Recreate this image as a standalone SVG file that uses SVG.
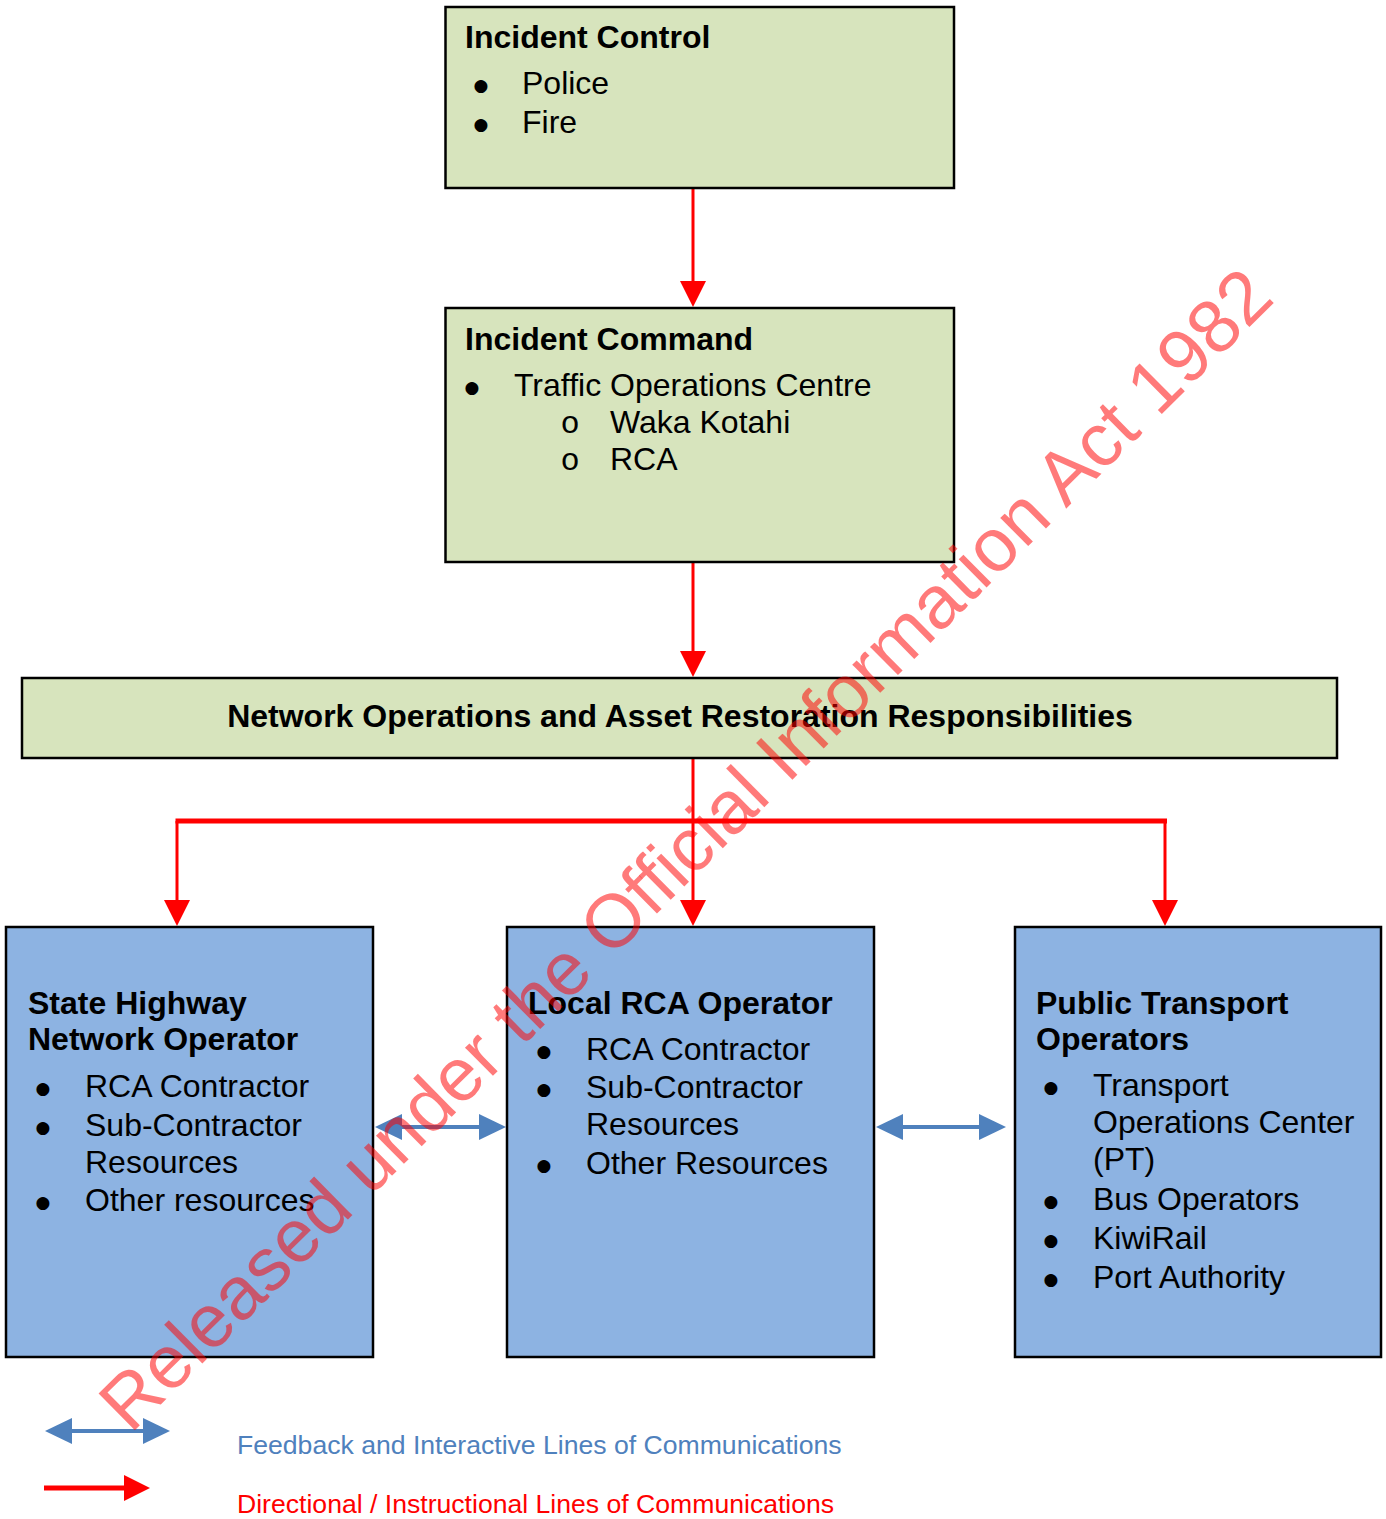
<svg xmlns="http://www.w3.org/2000/svg" width="1386" height="1519" viewBox="0 0 1386 1519">
<style>
.green{fill:#d7e4bd;stroke:#000;stroke-width:2.5}
.blue{fill:#8db3e2;stroke:#000;stroke-width:2.5}
.h{font-family:'Liberation Sans',Arial,sans-serif;font-weight:bold;font-size:32px;fill:#000}
.t{font-family:'Liberation Sans',Arial,sans-serif;font-size:32px;fill:#000}
.b{font-family:'DejaVu Sans',sans-serif;font-size:17px;fill:#000;text-anchor:middle}
.o{font-family:'Liberation Mono','Courier New',monospace;font-size:32px;fill:#000;text-anchor:middle}
.red{stroke:#ff0000;stroke-width:3;fill:none}
.bl{stroke:#4f81bd;stroke-width:4;fill:none}
.leg{font-family:'Liberation Sans',Arial,sans-serif;font-size:26.6px}
.wm{font-family:'Liberation Sans',Arial,sans-serif;font-size:75px;fill:#ff0000;fill-opacity:0.52}
</style>
<defs>
<marker id="ahr" viewBox="0 0 26 26" refX="16" refY="13" markerWidth="26" markerHeight="26" markerUnits="userSpaceOnUse" orient="auto"><path d="M0,0 L26,13 L0,26 z" fill="#ff0000"/></marker>
<marker id="ahb" viewBox="0 0 27 26" refX="17" refY="13" markerWidth="27" markerHeight="26" markerUnits="userSpaceOnUse" orient="auto-start-reverse"><path d="M0,0 L27,13 L0,26 z" fill="#4f81bd"/></marker>
</defs>
<rect width="1386" height="1519" fill="#fff"/>

<g id="connectors">
<path class="red" d="M693,189 L693,297" marker-end="url(#ahr)"/>
<path class="red" d="M693,563 L693,667" marker-end="url(#ahr)"/>
<path class="red" d="M693,759 L693,916" marker-end="url(#ahr)"/>
<path class="red" d="M175.5,821 L1167,821" style="stroke-width:5"/>
<path class="red" d="M177,821 L177,916" marker-end="url(#ahr)"/>
<path class="red" d="M1165,821 L1165,916" marker-end="url(#ahr)"/>
<path class="bl" d="M385,1127 L496,1127" marker-start="url(#ahb)" marker-end="url(#ahb)"/>
<path class="bl" d="M886,1127 L996,1127" marker-start="url(#ahb)" marker-end="url(#ahb)"/>
</g>

<g id="incident-control">
<rect class="green" x="445.5" y="7" width="508.5" height="181"/>
<text class="h" x="465" y="48">Incident Control</text>
<text class="b" x="481" y="91">●</text><text class="t" x="522" y="94">Police</text>
<text class="b" x="481" y="130">●</text><text class="t" x="522" y="133">Fire</text>
</g>

<g id="incident-command">
<rect class="green" x="445.5" y="308" width="508.5" height="254"/>
<text class="h" x="465" y="350">Incident Command</text>
<text class="b" x="472" y="393">●</text><text class="t" x="514" y="396">Traffic Operations Centre</text>
<text class="o" x="570" y="433">o</text><text class="t" x="610" y="433">Waka Kotahi</text>
<text class="o" x="570" y="470">o</text><text class="t" x="610" y="470">RCA</text>
</g>

<g id="network-ops">
<rect class="green" x="22" y="678" width="1315" height="80"/>
<text class="h" x="680" y="727" text-anchor="middle">Network Operations and Asset Restoration Responsibilities</text>
</g>

<g id="state-highway">
<rect class="blue" x="6" y="927" width="367" height="430"/>
<text class="h" x="28" y="1014">State Highway</text>
<text class="h" x="28" y="1050">Network Operator</text>
<text class="b" x="43" y="1094">●</text><text class="t" x="85" y="1097">RCA Contractor</text>
<text class="b" x="43" y="1133">●</text><text class="t" x="85" y="1136">Sub-Contractor</text>
<text class="t" x="85" y="1173">Resources</text>
<text class="b" x="43" y="1208">●</text><text class="t" x="85" y="1211">Other resources</text>
</g>

<g id="local-rca">
<rect class="blue" x="507" y="927" width="367" height="430"/>
<text class="h" x="528" y="1014">Local RCA Operator</text>
<text class="b" x="544" y="1057">●</text><text class="t" x="586" y="1060">RCA Contractor</text>
<text class="b" x="544" y="1095">●</text><text class="t" x="586" y="1098">Sub-Contractor</text>
<text class="t" x="586" y="1135">Resources</text>
<text class="b" x="544" y="1171">●</text><text class="t" x="586" y="1174">Other Resources</text>
</g>

<g id="public-transport">
<rect class="blue" x="1015" y="927" width="366" height="430"/>
<text class="h" x="1036" y="1014">Public Transport</text>
<text class="h" x="1036" y="1050">Operators</text>
<text class="b" x="1051" y="1093">●</text><text class="t" x="1093" y="1096">Transport</text>
<text class="t" x="1093" y="1133">Operations Center</text>
<text class="t" x="1093" y="1170">(PT)</text>
<text class="b" x="1051" y="1207">●</text><text class="t" x="1093" y="1210">Bus Operators</text>
<text class="b" x="1051" y="1246">●</text><text class="t" x="1093" y="1249">KiwiRail</text>
<text class="b" x="1051" y="1285">●</text><text class="t" x="1093" y="1288">Port Authority</text>
</g>

<g id="legend">
<path class="bl" d="M55,1431 L160,1431" marker-start="url(#ahb)" marker-end="url(#ahb)"/>
<path class="red" d="M44,1488 L140,1488" style="stroke-width:5" marker-end="url(#ahr)"/>
<text class="leg" x="237" y="1454" fill="#4f81bd">Feedback and Interactive Lines of Communications</text>
<text class="leg" x="237" y="1513" fill="#ff0000">Directional / Instructional Lines of Communications</text>
</g>

<text class="wm" x="703.5" y="867.5" text-anchor="middle" transform="rotate(-44.7 703.5 867.5)">Released under the Official Information Act 1982</text>
</svg>
